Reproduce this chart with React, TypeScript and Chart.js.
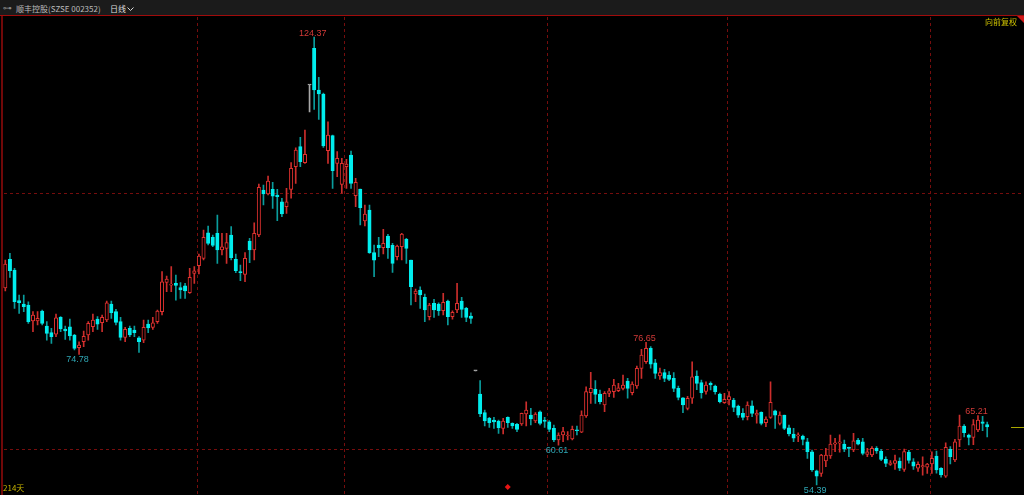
import React, { useEffect, useRef } from 'react';
import { Chart, registerables } from 'chart.js';

Chart.register(...registerables);

const TITLE = '顺丰控股(SZSE 002352)';
const PERIOD = '日线';
const ADJUST = '向前复权';
const DAYS_LABEL = '214天';

const OPEN = [
  85.15, 89.63, 87.96, 83.17, 82.65, 82.49, 79.99, 79.99, 81.56, 79.21,
  78.17, 77.92, 80.57, 78.74, 79.1, 77.81, 75.82, 76.76, 77.81, 79.1,
  80.31, 79.73, 80.15, 82.65, 81.45, 79.89, 77.45, 78.85, 78.59, 77.38,
  77.02, 79.52, 79.01, 79.89, 81.45, 86.04, 85.6, 85.88, 85.2, 85.51,
  84.42, 87.45, 88.63, 89.79, 93.79, 93.07, 93.7, 91.09, 91.35, 93.43,
  89.63, 87.7, 87.29, 92.49, 91.09, 93.43, 100.46, 99.84, 100.57, 99.68,
  98.63, 97.85, 100.57, 104.1, 107.23, 104.73, 116.87, 122.6, 116.09, 115.46,
  106.6, 108.95, 104.63, 101.35, 104.1, 105.93, 99.57, 100.62, 95.62, 97.34,
  90.67, 91.87, 91.45, 93.27, 91.82, 90.04, 91.6, 92.76, 89.52, 84.21,
  84.84, 83.7, 80.67, 82.76, 82.65, 81.61, 83.12, 80.67, 81.71, 83.12,
  81.98, 80.77, 72.2, 68.59, 65.67, 64.79, 64.53, 64.37, 63.22, 64.94,
  64.01, 63.85, 63.9, 65.46, 65.3, 64.37, 65.82, 64.53, 64.26, 63.22,
  61.4, 62.18, 62.03, 61.56, 63.0, 62.64, 65.15, 68.79, 69.32, 68.59,
  66.87, 68.7, 68.95, 69.1, 69.48, 70.62, 68.79, 69.84, 72.6, 73.63,
  75.73, 73.48, 71.4, 71.92, 71.56, 71.04, 69.48, 68.0, 66.35, 67.92,
  71.4, 70.36, 68.99, 70.26, 69.84, 68.59, 67.23, 67.65, 67.65, 66.72,
  65.57, 65.04, 66.76, 65.3, 65.73, 64.1, 64.95, 65.98, 64.01, 65.3,
  63.32, 62.34, 62.05, 62.03, 61.13, 59.57, 56.6, 56.2, 58.12, 58.9,
  60.77, 60.9, 60.77, 60.2, 59.84, 61.4, 61.13, 59.16, 59.06, 60.1,
  59.68, 58.38, 57.6, 57.76, 58.1, 56.8, 59.5, 58.0, 57.0, 57.2,
  57.14, 57.65, 58.9, 56.97, 55.77, 59.94, 58.28, 61.4, 63.59, 62.18,
  61.82, 62.97, 64.26, 63.8,
];

const HIGH = [
  89.53, 90.57, 88.23, 84.06, 84.06, 83.01, 81.45, 81.45, 81.71, 79.89,
  78.85, 81.09, 80.67, 79.21, 80.31, 77.9, 76.76, 78.43, 79.89, 81.09,
  80.67, 80.93, 83.12, 83.12, 81.82, 80.57, 79.01, 79.21, 79.21, 77.55,
  80.15, 80.15, 80.57, 81.71, 87.7, 87.02, 88.48, 87.18, 86.0, 85.88,
  88.22, 88.48, 90.46, 94.21, 94.84, 93.43, 96.56, 93.7, 93.7, 94.73,
  90.46, 88.74, 90.67, 92.92, 95.35, 101.4, 101.24, 102.65, 101.67, 100.57,
  99.17, 100.73, 104.73, 107.07, 108.7, 109.84, 116.87, 124.37, 118.07, 115.6,
  111.13, 109.06, 106.45, 105.42, 105.26, 106.56, 102.29, 100.62, 98.12, 98.12,
  91.87, 93.07, 94.32, 93.54, 92.13, 91.87, 93.7, 92.92, 89.52, 84.99,
  85.35, 84.21, 82.76, 83.38, 82.85, 84.32, 83.27, 81.6, 85.88, 83.7,
  82.12, 81.29, 72.2, 70.67, 66.09, 64.94, 64.94, 64.53, 64.79, 65.04,
  64.1, 64.01, 65.6, 67.38, 66.35, 65.67, 65.98, 64.94, 64.42, 63.75,
  62.54, 63.38, 62.7, 63.59, 63.59, 65.98, 69.73, 71.98, 70.67, 69.21,
  68.95, 69.48, 70.88, 70.26, 71.56, 71.04, 70.51, 72.96, 75.57, 76.65,
  76.0, 74.0, 72.63, 72.45, 72.1, 71.92, 69.84, 68.05, 68.23, 73.63,
  72.21, 70.78, 70.51, 70.51, 69.99, 68.75, 68.7, 68.95, 67.92, 66.87,
  66.3, 67.38, 67.54, 66.09, 65.82, 65.04, 70.51, 66.09, 65.82, 65.3,
  63.75, 63.22, 62.54, 62.18, 61.65, 59.84, 56.71, 59.16, 60.1, 62.18,
  61.65, 62.2, 61.4, 60.3, 62.44, 61.65, 61.65, 60.1, 60.36, 60.36,
  59.94, 58.78, 58.2, 59.06, 58.6, 60.0, 59.8, 58.5, 58.0, 58.78,
  57.76, 59.57, 59.68, 57.1, 60.98, 60.36, 61.5, 65.3, 63.8, 62.34,
  64.58, 65.21, 65.1, 64.2,
];

const LOW = [
  84.68, 86.82, 81.98, 81.2, 81.45, 79.63, 78.32, 79.37, 79.37, 77.02,
  76.51, 77.55, 78.32, 77.13, 77.02, 75.46, 74.78, 75.98, 77.02, 78.32,
  78.7, 78.32, 79.89, 80.41, 79.37, 77.02, 76.76, 77.55, 77.55, 75.1,
  76.6, 78.17, 78.7, 79.63, 80.93, 84.57, 84.57, 83.27, 83.54, 83.54,
  84.32, 85.88, 87.34, 89.53, 91.87, 91.6, 89.01, 90.31, 89.01, 89.53,
  87.54, 86.29, 86.13, 89.1, 89.53, 93.17, 98.12, 99.68, 97.6, 95.67,
  96.29, 96.82, 99.17, 101.51, 104.1, 104.63, 112.65, 113.07, 111.51, 107.1,
  104.63, 100.73, 102.54, 99.95, 100.73, 100.73, 97.85, 94.99, 94.84, 90.56,
  86.92, 90.04, 90.46, 89.79, 87.6, 89.53, 89.53, 89.01, 82.49, 83.01,
  81.98, 79.89, 80.15, 80.57, 80.88, 80.93, 79.37, 80.3, 81.29, 80.57,
  79.89, 79.63, 72.2, 65.04, 63.59, 63.38, 63.22, 62.45, 62.34, 63.38,
  63.22, 62.69, 63.7, 63.59, 63.75, 64.1, 63.75, 63.38, 62.69, 61.14,
  60.61, 61.14, 61.4, 61.4, 62.18, 62.54, 64.94, 67.13, 67.13, 67.03,
  65.82, 68.17, 68.07, 68.95, 69.21, 67.92, 68.43, 69.48, 71.04, 73.38,
  72.63, 71.04, 70.88, 70.51, 70.67, 68.95, 67.65, 65.67, 66.09, 67.13,
  69.28, 67.92, 68.56, 69.21, 68.56, 67.2, 67.13, 66.87, 65.82, 64.94,
  64.53, 64.53, 65.04, 64.04, 63.75, 63.49, 64.79, 63.22, 63.75, 63.0,
  62.03, 61.14, 61.14, 60.62, 58.54, 56.5, 54.39, 55.71, 57.22, 58.54,
  59.57, 59.5, 59.57, 58.78, 59.57, 60.62, 59.06, 58.78, 58.78, 59.32,
  58.17, 57.22, 57.45, 56.82, 56.6, 56.5, 57.8, 56.8, 56.5, 55.9,
  56.2, 56.2, 56.23, 55.6, 55.56, 57.65, 58.0, 60.36, 61.9, 60.62,
  60.67, 62.69, 62.85, 61.9,
];

const CLOSE = [
  88.9, 87.85, 83.01, 82.85, 82.23, 79.89, 80.93, 80.41, 79.63, 78.07,
  77.55, 80.51, 78.74, 78.43, 77.65, 75.73, 76.24, 77.6, 79.63, 80.15,
  79.52, 80.57, 82.85, 81.29, 79.79, 77.45, 78.7, 77.81, 78.17, 76.76,
  79.01, 78.9, 79.73, 81.56, 86.13, 86.56, 85.75, 85.57, 84.84, 84.68,
  86.82, 87.85, 90.15, 93.07, 92.13, 91.82, 91.09, 91.6, 92.23, 89.88,
  87.85, 87.54, 89.79, 91.09, 93.7, 100.88, 99.84, 101.87, 99.52, 99.42,
  96.71, 98.63, 103.85, 106.71, 104.88, 106.04, 116.87, 116.09, 115.46, 107.34,
  109.06, 103.48, 105.42, 104.63, 104.53, 101.51, 101.67, 97.7, 96.71, 90.67,
  89.52, 91.45, 92.13, 91.45, 89.01, 91.71, 93.59, 91.35, 85.35, 84.68,
  84.06, 81.71, 82.49, 81.71, 81.61, 82.91, 80.67, 81.35, 82.76, 81.82,
  80.57, 80.41, 72.2, 65.46, 64.37, 64.1, 64.22, 63.32, 64.37, 64.1,
  63.59, 63.07, 65.57, 66.09, 64.68, 65.46, 64.01, 64.32, 63.07, 61.4,
  62.18, 62.7, 62.18, 63.07, 62.85, 65.3, 68.95, 69.48, 68.54, 67.38,
  68.7, 69.1, 69.99, 69.57, 69.99, 69.48, 70.15, 72.6, 74.68, 75.73,
  73.27, 71.82, 71.92, 71.04, 70.88, 69.48, 68.07, 66.87, 67.92, 71.29,
  70.26, 68.79, 69.99, 69.99, 68.95, 67.38, 67.75, 68.17, 66.51, 65.3,
  64.94, 66.87, 65.57, 65.57, 64.01, 64.68, 67.29, 65.3, 65.3, 63.22,
  62.34, 61.67, 62.1, 61.51, 59.57, 56.71, 55.77, 59.06, 59.06, 60.77,
  60.98, 61.1, 59.99, 60.1, 61.29, 60.77, 59.32, 59.57, 60.1, 59.68,
  58.38, 57.76, 57.85, 58.17, 57.0, 59.6, 58.2, 57.3, 57.6, 57.4,
  57.65, 58.54, 56.71, 55.93, 60.26, 58.8, 61.13, 63.59, 62.54, 61.82,
  63.8, 64.53, 64.0, 63.43,
];

// trading-day categories
const DAYS = OPEN.map((_, i) => `D${i + 1}`);

// horizontal reference prices and period separators (index of first day of a period)
const PRICE_GRID = [60, 100];
const PERIOD_STARTS = [42, 74, 118, 157, 201];
// highest / lowest markers
const EXTREMES: { i: number; kind: 'high' | 'low' }[] = [
  { i: 16, kind: 'low' },
  { i: 67, kind: 'high' },
  { i: 120, kind: 'low' },
  { i: 139, kind: 'high' },
  { i: 176, kind: 'low' },
  { i: 211, kind: 'high' },
];
const EVENT_DAY = 109;

const Y_MIN = 52.81;
const Y_MAX = 127.495;

const UP_EDGE = '#e0312f';
const UP_WICK = '#cc2e2c';
const DOWN_FILL = '#00eeee';
const DOWN_WICK = '#0a9d9d';
const FLAT = '#a8a8a8';

const kind = (i: number) => (CLOSE[i] > OPEN[i] ? 'up' : CLOSE[i] < OPEN[i] ? 'down' : 'flat');

const overlay = {
  id: 'overlay',
  beforeDatasetsDraw(chart: any) {
    const { ctx, chartArea, scales } = chart;
    const x = scales.x;
    const y = scales.y;
    ctx.save();
    // frame
    ctx.fillStyle = '#a00c0c';
    ctx.fillRect(0, 15, chart.width, 1);
    ctx.fillStyle = '#700808';
    ctx.fillRect(1, 16, 2, chart.height - 16);
    // dotted guides
    ctx.fillStyle = '#760d0d';
    for (const v of PRICE_GRID) {
      const py = Math.round(y.getPixelForValue(v));
      for (let xx = Math.round(chartArea.left) + 1; xx < chart.width; xx += 6) ctx.fillRect(xx, py, 3, 1);
    }
    const half = (x.getPixelForValue(1) - x.getPixelForValue(0)) / 2;
    for (const k of PERIOD_STARTS) {
      const px = Math.round(x.getPixelForValue(k) - half);
      for (let yy = 17; yy < chart.height; yy += 6) ctx.fillRect(px, yy, 1, 3);
    }
    ctx.restore();
  },
  afterDatasetsDraw(chart: any) {
    const { ctx, scales } = chart;
    const x = scales.x;
    const y = scales.y;
    ctx.save();
    ctx.font = '9px "Liberation Sans", Arial, sans-serif';
    ctx.textAlign = 'center';
    ctx.textBaseline = 'alphabetic';
    for (const m of EXTREMES) {
      const px = x.getPixelForValue(m.i) - 1.5;
      if (m.kind === 'high') {
        ctx.fillStyle = '#d33a38';
        ctx.fillText(HIGH[m.i].toFixed(2), px, y.getPixelForValue(HIGH[m.i]) - 1.5);
      } else {
        ctx.fillStyle = '#2fa8b6';
        ctx.fillText(LOW[m.i].toFixed(2), px, y.getPixelForValue(LOW[m.i]) + 8);
      }
    }
    // event marker
    const ex = x.getPixelForValue(EVENT_DAY);
    const ey = chart.height - 8;
    ctx.fillStyle = '#e81414';
    ctx.beginPath();
    ctx.moveTo(ex, ey - 3);
    ctx.lineTo(ex + 3, ey);
    ctx.lineTo(ex, ey + 3);
    ctx.lineTo(ex - 3, ey);
    ctx.closePath();
    ctx.fill();
    // last price marker
    const last = CLOSE[CLOSE.length - 1];
    const ly = Math.round(y.getPixelForValue(last));
    ctx.fillStyle = '#a9a800';
    ctx.fillRect(1011, ly, chart.width - 1011, 1);
    // corner triangle
    ctx.fillStyle = '#d01818';
    ctx.beginPath();
    ctx.moveTo(1017, 16);
    ctx.lineTo(1024, 16);
    ctx.lineTo(1024, 23);
    ctx.closePath();
    ctx.fill();
    ctx.restore();
  },
};

export default function App() {
  const ref = useRef<HTMLCanvasElement>(null);
  useEffect(() => {
    const prev = document.body.style.margin;
    document.body.style.margin = '0';
    const chart = new Chart(ref.current as HTMLCanvasElement, {
      type: 'bar',
      data: {
        labels: DAYS,
        datasets: [
          {
            label: 'body',
            data: OPEN.map((o, i) => [o, CLOSE[i]]) as any,
            backgroundColor: OPEN.map((_, i) => (kind(i) === 'up' ? '#000000' : kind(i) === 'down' ? DOWN_FILL : FLAT)),
            borderColor: OPEN.map((_, i) => (kind(i) === 'up' ? UP_EDGE : kind(i) === 'down' ? DOWN_FILL : FLAT)),
            borderWidth: 1,
            borderSkipped: false,
            barThickness: 3.4,
            minBarLength: 1,
            grouped: false,
            order: 0,
          } as any,
          {
            label: 'wick',
            data: LOW.map((l, i) => [l, HIGH[i]]) as any,
            backgroundColor: OPEN.map((_, i) => (kind(i) === 'up' ? UP_WICK : kind(i) === 'down' ? DOWN_WICK : FLAT)),
            borderWidth: 0,
            barThickness: 1,
            grouped: false,
            order: 1,
          } as any,
        ],
      },
      options: {
        responsive: false,
        animation: false,
        devicePixelRatio: 1,
        events: [],
        layout: { padding: { left: 3, right: 34.5, top: 17, bottom: 0 } },
        plugins: { legend: { display: false }, tooltip: { enabled: false } },
        scales: {
          x: { display: false, offset: true },
          y: { display: false, min: Y_MIN, max: Y_MAX },
        },
      },
      plugins: [overlay],
    });
    return () => {
      chart.destroy();
      document.body.style.margin = prev;
    };
  }, []);

  const small: React.CSSProperties = {
    position: 'absolute',
    fontFamily: '"Noto Sans CJK SC", "Noto Sans", sans-serif',
    fontSize: 8,
    lineHeight: '10px',
    whiteSpace: 'nowrap',
  };

  return (
    <div style={{ position: 'fixed', left: 0, top: 0, width: 1024, height: 495, background: '#000', overflow: 'hidden' }}>
      <canvas ref={ref} width={1024} height={495} style={{ position: 'absolute', left: 0, top: 0, width: 1024, height: 495 }} />
      <div style={{ position: 'absolute', left: 0, top: 0, width: 1024, height: 15, background: '#1b1b1b' }} />
      <div style={{ ...small, left: 3, top: 3, color: '#8a8a8a', fontSize: 9, fontFamily: '"DejaVu Sans", sans-serif' }}>⊶</div>
      <div style={{ ...small, left: 16, top: 4, color: '#bcbcbc' }}>{TITLE}</div>
      <div style={{ ...small, left: 110, top: 4, color: '#dedede' }}>{PERIOD}</div>
      <svg style={{ position: 'absolute', left: 127, top: 7 }} width={7} height={5}>
        <polyline points="0.5,0.5 3.5,3.5 6.5,0.5" fill="none" stroke="#d8d8d8" strokeWidth={1} />
      </svg>
      <div style={{ ...small, left: 985, top: 17, color: '#cfc300' }}>{ADJUST}</div>
      <div style={{ ...small, left: 3, top: 483, color: '#c8b400' }}>{DAYS_LABEL}</div>
    </div>
  );
}
